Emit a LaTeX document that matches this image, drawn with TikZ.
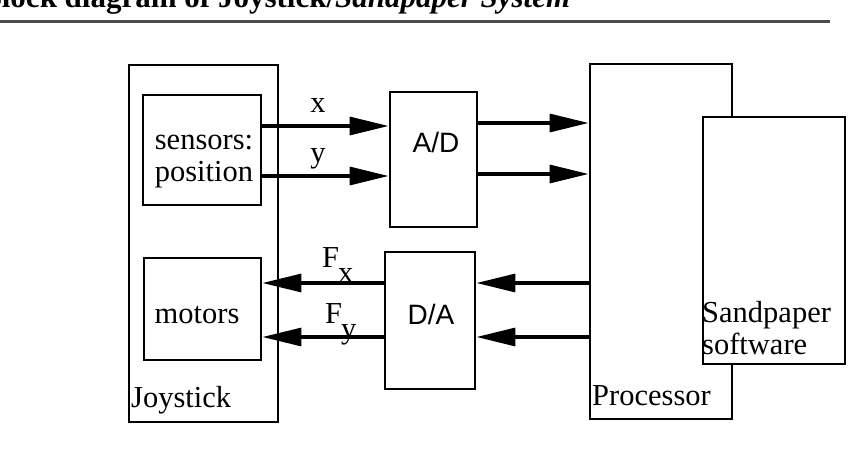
\documentclass[tikz,border=0pt]{standalone}
\usepackage{fontspec}
\setmainfont{Liberation Serif}
\newfontfamily\sansf{Liberation Sans}
\usetikzlibrary{arrows.meta}
\begin{document}
\begin{tikzpicture}[x=1pt,y=-1pt,
  box/.style={draw,line width=2.8pt,inner sep=0pt},
  conn/.style={line width=3.2pt,-{Triangle[length=39pt,width=18pt]}},
  txt/.style={inner sep=0pt,font=\fontsize{30.5}{32}\selectfont},
  sanstxt/.style={inner sep=0pt,font=\sansf\fontsize{28}{30}\selectfont}]
\clip (0,0) rectangle (853,449);
\fill[white] (0,0) rectangle (853,449);
% title and rule
\node[anchor=base west,inner sep=0pt,font=\bfseries\fontsize{31}{31}\selectfont] (title) at (-19,7.5)
  {Block diagram of Joystick/\textit{Sandpaper System}};
\draw[line width=2.2pt,black!70] (0,21.5) -- (830,21.5);
% boxes
\node[box,minimum width=149pt,minimum height=357pt] (joy) at (203.5,243.5) {};
\node[box,minimum width=118pt,minimum height=110pt] (sens) at (202,150) {};
\node[box,minimum width=117pt,minimum height=102pt] (mot) at (202.5,309) {};
\node[box,minimum width=87pt,minimum height=135pt] (ad) at (433.5,159.5) {};
\node[box,minimum width=90pt,minimum height=137pt] (da) at (430,320.5) {};
\node[box,minimum width=142pt,minimum height=355pt] (proc) at (661,241.5) {};
\node[box,fill=white,minimum width=142pt,minimum height=247pt] (sand) at (774,240.5) {};
% box texts
\node[txt,anchor=base] (sensA) at (204,150) {sensors:};
\node[txt,anchor=base] (sensB) at (204,182) {position};
\node[txt,anchor=base] (motT) at (197,323) {motors};
\node[sanstxt,anchor=base] (adT) at (436,153) {A/D};
\node[sanstxt,anchor=base] (daT) at (431,324) {D/A};
\node[txt,anchor=base west] (joyT) at (131,407) {Joystick};
\node[txt,anchor=base west] (procT) at (592,405) {Processor};
\node[txt,anchor=base west] (sandA) at (702,322) {Sandpaper};
\node[txt,anchor=base west] (sandB) at (702,354) {software};
% connector rows
\coordinate (r1) at (0,126);
\coordinate (r2) at (0,176);
\coordinate (r3) at (0,123);
\coordinate (r4) at (0,174);
\coordinate (r5) at (0,283);
\coordinate (r6) at (0,337);
\draw[conn] (sens.east |- r1) -- (ad.west |- r1);
\draw[conn] (sens.east |- r2) -- (ad.west |- r2);
\draw[conn] (ad.east |- r3) -- (proc.west |- r3);
\draw[conn] (ad.east |- r4) -- (proc.west |- r4);
\draw[conn] (proc.west |- r5) -- (da.east |- r5);
\draw[conn] (proc.west |- r6) -- (da.east |- r6);
\draw[conn] (da.west |- r5) -- (mot.east |- r5);
\draw[conn] (da.west |- r6) -- (mot.east |- r6);
% signal labels
\node[txt,anchor=base] (lx) at (318,113) {x};
\node[txt,anchor=base] (ly) at (318,163) {y};
\node[txt,anchor=base west] (lfx) at (322,267) {F\hspace{-1pt}\raisebox{-15pt}{x}};
\node[txt,anchor=base west] (lfy) at (325,323) {F\hspace{-1pt}\raisebox{-15pt}{y}};
\end{tikzpicture}
\end{document}
